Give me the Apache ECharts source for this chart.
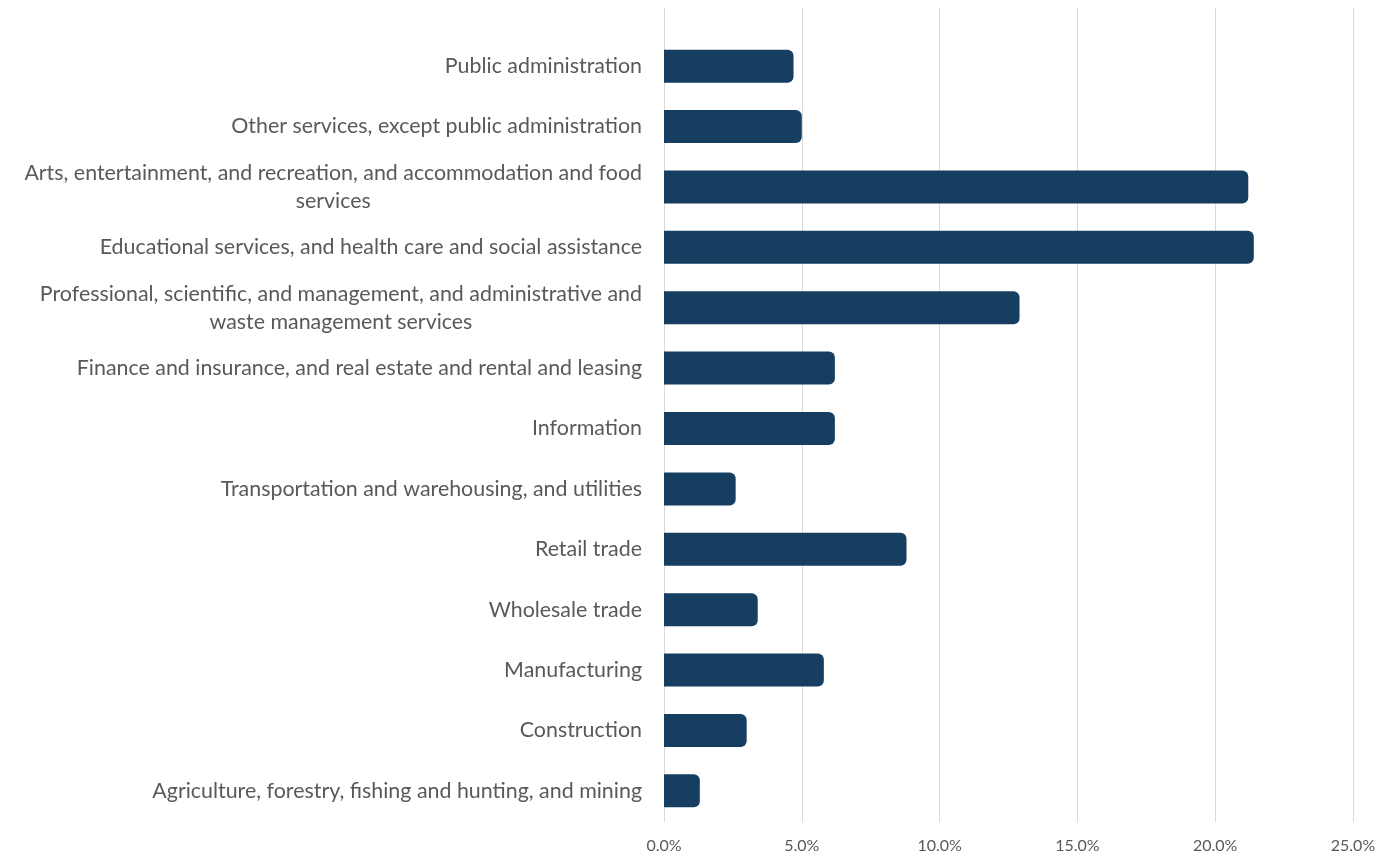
<!DOCTYPE html>
<html>
<head>
<meta charset="utf-8">
<style>
  html, body { margin: 0; padding: 0; background: #ffffff; }
  #chart { width: 1379px; height: 859px; }
</style>
<script src="https://cdn.jsdelivr.net/npm/echarts@6/dist/echarts.min.js"></script>
</head>
<body>
<div id="chart"></div>
<script>
// Industry categories, listed bottom to top as drawn on the vertical axis
const categories = [
  'Agriculture, forestry, fishing and hunting, and mining',
  'Construction',
  'Manufacturing',
  'Wholesale trade',
  'Retail trade',
  'Transportation and warehousing, and utilities',
  'Information',
  'Finance and insurance, and real estate and rental and leasing',
  'Professional, scientific, and management, and administrative and\nwaste management services',
  'Educational services, and health care and social assistance',
  'Arts, entertainment, and recreation, and accommodation and food\nservices',
  'Other services, except public administration',
  'Public administration'
];

// Share of total, in percent
const shares = [1.3, 3.0, 5.8, 3.4, 8.8, 2.6, 6.2, 6.2, 12.9, 21.4, 21.2, 5.0, 4.7];

// Horizontal axis ticks, in percent
const xTicks = [0, 5, 10, 15, 20, 25];

const FONT = 'Lato, "Open Sans", sans-serif';
const TEXT = '#595959';

const chart = echarts.init(document.getElementById('chart'), null, { renderer: 'canvas' });

const xMin = xTicks[0];
const xMax = xTicks[xTicks.length - 1];
const xStep = xTicks[1] - xTicks[0];

chart.setOption({
  animation: false,
  grid: [
    // gridline layer
    { left: 664, right: 26, top: 8, bottom: 37, containLabel: false },
    // bars and labels
    { left: 664, right: 26, top: 36, bottom: 38, containLabel: false }
  ],
  xAxis: [
    {
      gridIndex: 0, type: 'value', min: xMin, max: xMax, interval: xStep,
      axisLine: { show: false }, axisTick: { show: false }, axisLabel: { show: false },
      splitLine: { show: true, lineStyle: { color: '#d9d9d9', width: 1 } }
    },
    {
      gridIndex: 1, type: 'value', min: xMin, max: xMax, interval: xStep,
      axisLine: { show: false }, axisTick: { show: false },
      splitLine: { show: false },
      axisLabel: {
        margin: 17,
        color: TEXT, fontFamily: FONT, fontSize: 16,
        formatter: v => v.toFixed(1) + '%'
      }
    }
  ],
  yAxis: [
    {
      gridIndex: 0, type: 'value', show: false
    },
    {
      gridIndex: 1, type: 'category', data: categories,
      axisLine: { show: false }, axisTick: { show: false },
      axisLabel: {
        margin: 22,
        color: TEXT, fontFamily: FONT, fontSize: 21.4,
        lineHeight: 28,
        formatter: v => v.split('\n').map(l => '{c|' + l + '}').join('\n'),
        rich: {
          c: { align: 'center', color: TEXT, fontFamily: FONT, fontSize: 21.4, lineHeight: 28 }
        }
      }
    }
  ],
  series: [
    {
      type: 'bar',
      xAxisIndex: 1, yAxisIndex: 1,
      data: shares,
      barWidth: 33,
      itemStyle: { color: '#163E60', borderRadius: [0, 6, 6, 0] }
    }
  ]
});
</script>
</body>
</html>
